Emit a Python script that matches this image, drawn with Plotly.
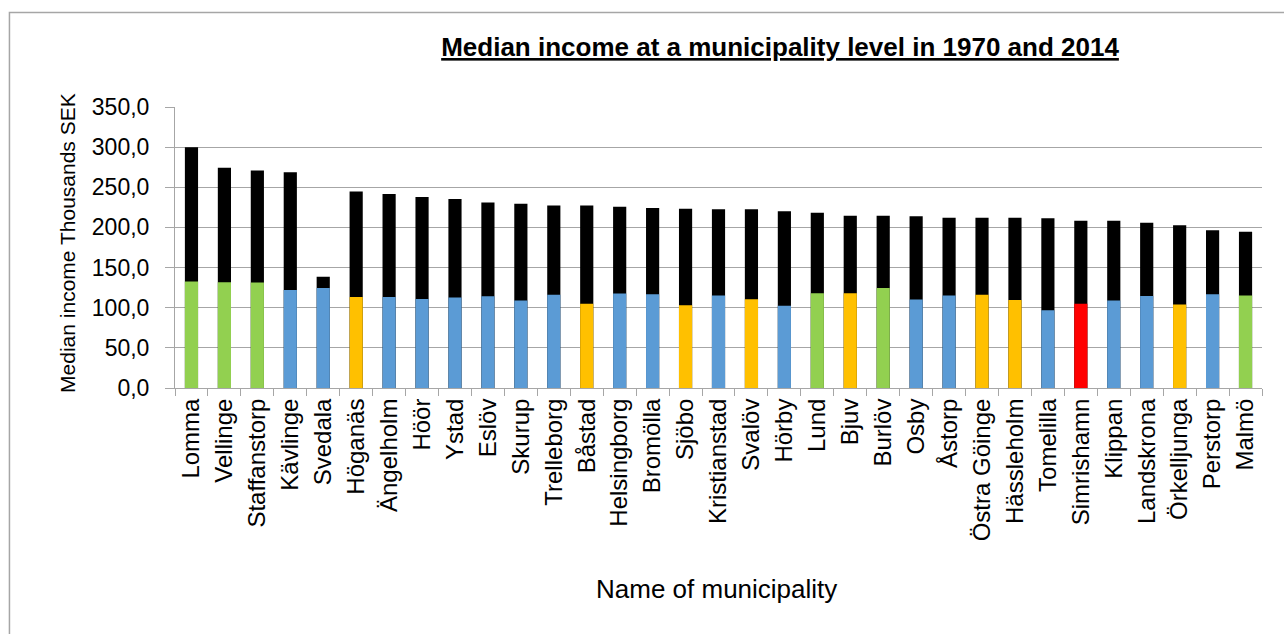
import plotly.graph_objects as go

# Municipalities, ordered by 2014 median income
municipalities = [
    "Lomma", "Vellinge", "Staffanstorp", "Kävlinge", "Svedala", "Höganäs",
    "Ängelholm", "Höör", "Ystad", "Eslöv", "Skurup", "Trelleborg", "Båstad",
    "Helsingborg", "Bromölla", "Sjöbo", "Kristianstad", "Svalöv", "Hörby",
    "Lund", "Bjuv", "Burlöv", "Osby", "Åstorp", "Östra Göinge", "Hässleholm",
    "Tomelilla", "Simrishamn", "Klippan", "Landskrona", "Örkelljunga",
    "Perstorp", "Malmö",
]

# Median income 2014 (thousands SEK)
income_2014 = [
    300.0, 274.2, 271.0, 268.8, 138.7, 244.9, 241.5, 237.8, 235.3, 231.2,
    229.4, 227.4, 227.4, 225.7, 224.1, 223.2, 222.5, 222.5, 220.0, 218.3,
    214.5, 214.5, 213.8, 212.0, 212.0, 212.0, 211.3, 208.3, 208.3, 205.8,
    202.6, 196.4, 194.6,
]

# Median income 1970 (thousands SEK)
income_1970 = [
    132.5, 131.7, 131.3, 122.2, 124.7, 113.5, 113.5, 111.0, 112.6, 114.3,
    108.9, 116.0, 104.8, 117.6, 116.8, 103.2, 115.1, 110.6, 102.3, 118.1,
    118.1, 124.7, 110.1, 115.1, 116.0, 109.7, 96.9, 104.8, 108.9, 114.7,
    103.9, 116.8, 115.1,
]

# Group of each municipality (colour of its 1970 bar)
groups = [
    "g", "g", "g", "b", "b", "o", "b", "b", "b", "b", "b", "b", "o", "b",
    "b", "o", "b", "o", "b", "g", "o", "g", "b", "b", "o", "o", "b", "r",
    "b", "b", "o", "b", "g",
]

palette = {"g": "#92D050", "b": "#5B9BD5", "o": "#FFC000", "r": "#FF0000"}
colors_1970 = [palette[g] for g in groups]

fig = go.Figure()
fig.add_trace(go.Bar(
    x=municipalities, y=income_2014, name="2014",
    marker=dict(color="#000000", line=dict(width=0)), width=0.4,
))
fig.add_trace(go.Bar(
    x=municipalities, y=income_1970, name="1970",
    marker=dict(color=colors_1970, line=dict(width=0)), width=0.4,
))

font_family = "Liberation Sans, Arial, sans-serif"

fig.update_layout(
    barmode="overlay",
    width=1284, height=634,
    margin=dict(l=175, r=22, t=107, b=246),
    paper_bgcolor="white", plot_bgcolor="white",
    showlegend=False,
    font=dict(family=font_family, color="#000000"),
    title=dict(
        text="<b><u>Median income at a municipality level in 1970 and 2014</u></b>",
        x=0.6075, y=0.926, xanchor="center", yanchor="middle",
        font=dict(size=26, family=font_family, color="#000000"),
    ),
    xaxis=dict(
        type="category", tickangle=-90,
        tickfont=dict(size=24), ticks="outside", tickson="boundaries",
        ticklen=7, tickcolor="#A6A6A6", showline=True, linecolor="#A6A6A6",
        linewidth=1, showgrid=False,
    ),
    yaxis=dict(
        range=[0, 350], dtick=50, tickformat=".1f",
        tickfont=dict(size=23), ticks="outside", ticklen=9,
        ticklabelstandoff=11,
        tickcolor="#A6A6A6", showline=True, linecolor="#A6A6A6",
        linewidth=1, showgrid=True, gridcolor="#A6A6A6", gridwidth=1,
        zeroline=False,
    ),
    separators=",.",
    annotations=[
        dict(text="Median income Thousands SEK", xref="paper", yref="paper",
             x=-0.0984, y=0.5165, textangle=-90, showarrow=False,
             xanchor="center", yanchor="middle", font=dict(size=21)),
        dict(text="Name of municipality", xref="paper", yref="paper",
             x=0.4986, y=-0.717, showarrow=False,
             xanchor="center", yanchor="middle", font=dict(size=26)),
    ],
    shapes=[
        dict(type="rect", xref="paper", yref="paper",
             x0=-0.1523, x1=1.2, y0=-2.0, y1=1.3366,
             line=dict(color="#A6A6A6", width=1.5), layer="below"),
    ],
)

fig.write_html("out.html")
